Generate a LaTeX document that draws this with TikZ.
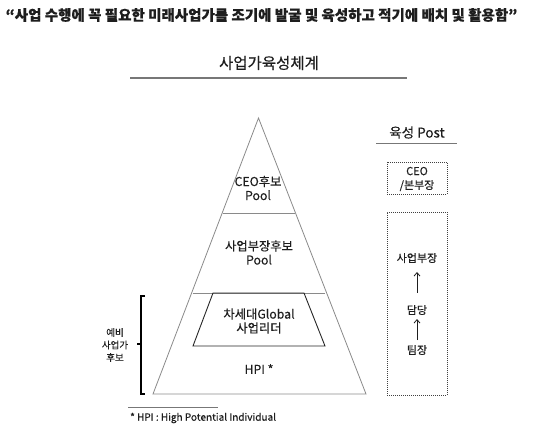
\documentclass[tikz,border=0pt]{standalone}
\usepackage{fontspec}
\setmainfont{Noto Sans CJK KR}[FakeBold=0.4]
\usetikzlibrary{arrows.meta}
\definecolor{txt}{HTML}{1E1E1E}
\definecolor{pyr}{HTML}{8A8A8A}
\definecolor{rule}{HTML}{777777}
\tikzset{
  lbl/.style={inner sep=0pt, text=txt, align=center, font=\fontsize{12.3pt}{14pt}\selectfont},
  small/.style={inner sep=0pt, text=txt, align=center, font=\fontsize{9.5pt}{12.5pt}\selectfont},
  post/.style={inner sep=0pt, text=txt, align=center, font=\fontsize{11pt}{14pt}\selectfont},
  dotbox/.style={draw=black!75, line width=0.8pt, dash pattern=on 1pt off 1pt},
  uparrow/.style={-{Straight Barb[length=3.5pt,width=6pt]}, line width=0.8pt, draw=txt},
}
\begin{document}
\begin{tikzpicture}[x=1pt,y=-1pt]
\useasboundingbox (0,0) rectangle (538,430);
% top quote
\node[inner sep=0pt, text=txt, font=\bfseries\fontsize{14.5pt}{16pt}\selectfont] (quote) at (261.5,15)
  {“사업 수행에 꼭 필요한 미래사업가를 조기에 발굴 및 육성하고 적기에 배치 및 활용함”};
% title
\node[inner sep=0pt, text=txt, font=\fontsize{15.5pt}{17pt}\selectfont] (title) at (269,63) {사업가육성체계};
\draw[rule, line width=1.8pt] (130,78) -- (407,78);
% pyramid
\coordinate (apex) at (258.5,118);
\coordinate (bl) at (153,394);
\coordinate (br) at (366,394);
\draw[pyr, line width=0.8pt] (apex) -- (br) -- (bl) -- cycle;
\draw[pyr, line width=0.8pt] (222.5,213) -- (294.5,213);
\draw[pyr, line width=0.8pt] (192.5,293) -- (324.5,293);
\draw[black!85, line width=0.9pt] (213,293) -- (304,293) -- (325,346) -- (193,346) -- cycle;
\node[lbl] (ceo) at (258,188) {CEO후보\\Pool};
\node[lbl] (bu) at (259,252.5) {사업부장후보\\Pool};
\node[lbl] (glob) at (259,321) {차세대Global\\사업리더};
\node[lbl] (hpi) at (259,369) {HPI *};
% brace
\draw[black, line width=1.6pt] (145,296) -- (141,296) -- (141,394) -- (145,394);
\draw[black, line width=1.6pt] (141,344) -- (137,344);
\node[small] (yebi) at (115,345) {예비\\사업가\\후보};
% footnote
\draw[rule, line width=0.8pt] (128,407) -- (218,407);
\node[inner sep=0pt, anchor=west, text=txt, font=\fontsize{10pt}{11pt}\selectfont] (foot) at (130,418) {* HPI : High Potential Individual};
% right side
\node[inner sep=0pt, text=txt, font=\fontsize{13.5pt}{15pt}\selectfont] (post) at (417,132.5) {육성 Post};
\draw[rule, line width=1.8pt] (376,143.5) -- (457,143.5);
\node[dotbox, minimum width=60pt, minimum height=32pt] (ceobox) at (417,178) {};
\node[post] (ceotxt) at (417,179) {CEO\\/본부장};
\node[dotbox, minimum width=60pt, minimum height=183pt] (bigbox) at (417,303.5) {};
\node[post] (bujang) at (417,258) {사업부장};
\node[post] (damdang) at (417,310) {담당};
\node[post] (timjang) at (417,350) {팀장};
\coordinate (a1s) at (417,293);
\coordinate (a1e) at (417,272);
\coordinate (a2s) at (417,340);
\coordinate (a2e) at (417,319);
\draw[uparrow] (a1s) -- (a1e);
\draw[uparrow] (a2s) -- (a2e);
\end{tikzpicture}
\end{document}
